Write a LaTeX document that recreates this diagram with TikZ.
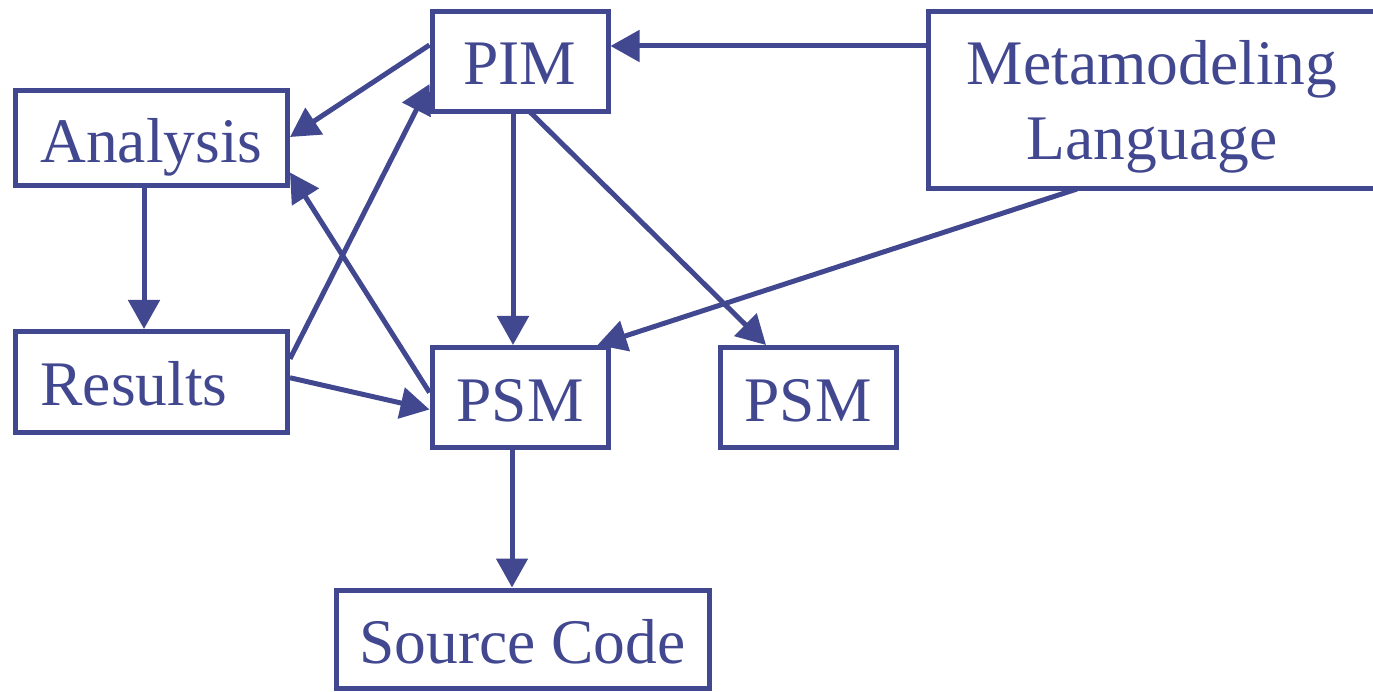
\documentclass[tikz,border=0pt]{standalone}
\usepackage{fontspec}
\setmainfont{Liberation Serif}
\usetikzlibrary{arrows.meta}
\definecolor{ink}{RGB}{66,72,144}
\begin{document}
\begin{tikzpicture}[x=1pt,y=-1pt,
  box/.style={draw=ink, line width=5pt, inner sep=0pt, text=ink,
    font=\fontsize{63.5}{75}\selectfont, text depth=0pt},
  arr/.style={draw=ink, line width=5pt, -{Triangle[length=29pt,width=31pt]}},
]
\useasboundingbox (0,0) rectangle (1373,692);
\node[box, minimum width=176pt, minimum height=100pt, text height=46pt] (pim) at (520,62) {PIM};
\node[box, minimum width=448pt, minimum height=177pt, align=center, text height=119pt, text depth=0pt] (meta) at (1152,100.5) {Metamodeling\\Language};
\node[box, minimum width=272pt, minimum height=95pt, text height=49pt] (analysis) at (151.5,138.5) {Analysis};
\node[box, minimum width=272pt, minimum height=100.5pt, text height=46.5pt, text width=222pt, inner xsep=25pt, align=left] (results) at (151.5,381.75) {Results};
\node[box, minimum width=176pt, minimum height=100pt, text height=47pt] (psm1) at (520,397.5) {PSM};
\node[box, minimum width=176pt, minimum height=100pt, text height=47pt] (psm2) at (808,397.5) {PSM};
\node[box, minimum width=373pt, minimum height=98pt, text height=48pt] (source) at (522.5,639) {Source Code};

\draw[arr] ([yshift=54.5pt]meta.west) -- ([yshift=16pt]pim.east);
\draw[arr] ([yshift=17pt]pim.west) -- ([yshift=1.5pt]analysis.east);
\draw[arr] ([yshift=23pt]results.east) -- ([yshift=-22pt]pim.west);
\draw[arr] ([yshift=5pt]psm1.west) -- ([yshift=-34pt]analysis.east);
\draw[arr] ([yshift=4pt]results.east) -- ([yshift=-12pt]psm1.west);
\draw[arr] ([xshift=-7.5pt]analysis.south) -- ([xshift=-7.5pt]results.north);
\draw[arr] ([xshift=-7pt]pim.south) -- ([xshift=-7pt]psm1.north);
\draw[arr] ([xshift=10pt,yshift=2.5pt]pim.south) -- ([xshift=-42pt]psm2.north);
\draw[arr] ([xshift=-75pt,yshift=2.5pt]meta.south) -- ([xshift=-13pt]psm1.north east);
\draw[arr] ([xshift=-8pt]psm1.south) -- ([xshift=-10.5pt]source.north);
\end{tikzpicture}
\end{document}
